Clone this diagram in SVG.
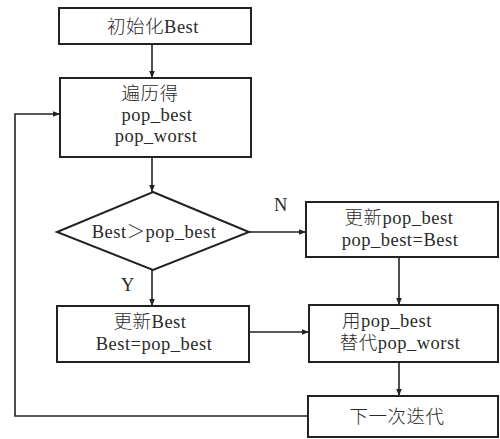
<svg xmlns="http://www.w3.org/2000/svg" width="500" height="439" viewBox="0 0 500 439">
  <style>
    .box { fill: #fff; stroke: #222; stroke-width: 2; }
    .line { fill: none; stroke: #222; stroke-width: 1.6; }
    text { font-family: "Liberation Serif", "Noto Sans CJK SC", serif; font-size: 18.5px; font-weight: 300; letter-spacing: 0.5px; fill: #2a2a2a; text-anchor: middle; }
  </style>
  <defs>
    <marker id="arrow" viewBox="0 0 10 10" refX="10" refY="5" markerWidth="7" markerHeight="7" orient="auto" markerUnits="userSpaceOnUse">
      <path d="M0,1 L10,5 L0,9 Z" fill="#222"/>
    </marker>
  </defs>
  <rect width="500" height="439" fill="#fff"/>

  <g id="connectors">
    <line class="line" x1="152" y1="44" x2="152" y2="78" marker-end="url(#arrow)"/>
    <line class="line" x1="152" y1="157" x2="152" y2="192" marker-end="url(#arrow)"/>
    <line class="line" x1="249" y1="232" x2="306" y2="232" marker-end="url(#arrow)"/>
    <line class="line" x1="152" y1="270" x2="152" y2="306" marker-end="url(#arrow)"/>
    <line class="line" x1="399" y1="257" x2="399" y2="305" marker-end="url(#arrow)"/>
    <line class="line" x1="249" y1="332" x2="309" y2="332" marker-end="url(#arrow)"/>
    <line class="line" x1="399" y1="362" x2="399" y2="396" marker-end="url(#arrow)"/>
    <polyline class="line" points="308,416 15,416 15,114 60,114" marker-end="url(#arrow)"/>
    <text x="281" y="211">N</text>
    <text x="128" y="291">Y</text>
  </g>

  <g id="init">
    <rect class="box" x="59" y="8" width="192" height="36"/>
    <text x="153" y="33">初始化Best</text>
  </g>

  <g id="traverse">
    <rect class="box" x="60" y="78" width="191" height="79"/>
    <text x="150" y="100">遍历得</text>
    <text x="157" y="121">pop_best</text>
    <text x="156" y="142">pop_worst</text>
  </g>

  <g id="compare">
    <polygon class="box" points="153,192 249,232 153,270 57,232"/>
    <text x="154" y="238">Best＞pop_best</text>
  </g>

  <g id="update-pop-best">
    <rect class="box" x="306" y="202" width="192" height="55"/>
    <text x="399" y="224">更新pop_best</text>
    <text x="400" y="246">pop_best=Best</text>
  </g>

  <g id="update-best">
    <rect class="box" x="57" y="306" width="192" height="56"/>
    <text x="150" y="328">更新Best</text>
    <text x="154" y="350">Best=pop_best</text>
  </g>

  <g id="replace-worst">
    <rect class="box" x="309" y="305" width="189" height="57"/>
    <text x="387" y="327">用pop_best</text>
    <text x="400" y="349">替代pop_worst</text>
  </g>

  <g id="next-iter">
    <rect class="box" x="308" y="396" width="190" height="41"/>
    <text x="397" y="423">下一次迭代</text>
  </g>
</svg>
